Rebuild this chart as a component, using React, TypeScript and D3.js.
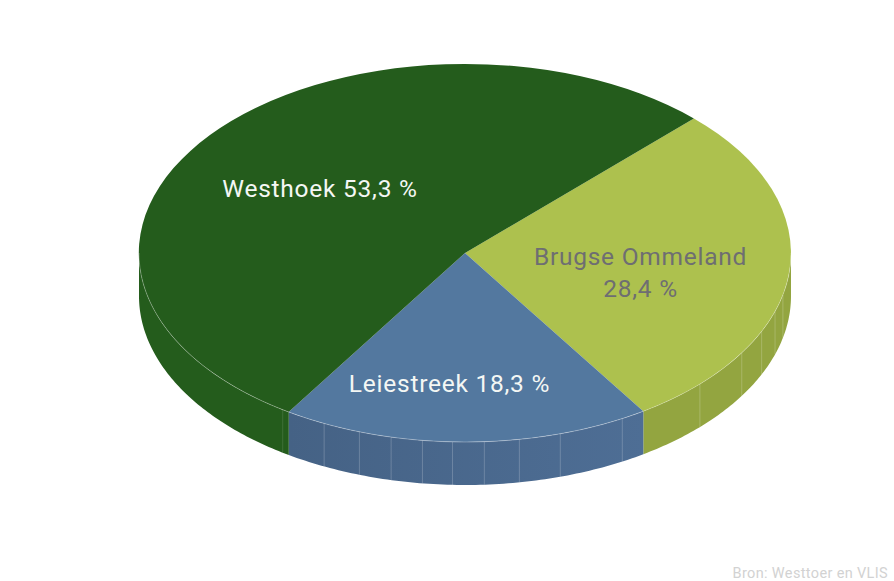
import React from "react";
import * as d3 from "d3";

const regions = ["Brugse Ommeland", "Leiestreek", "Westhoek"];
const shares = [28.4, 18.3, 53.3];
const shareLabels = ["28,4 %", "18,3 %", "53,3 %"];
const topColors = ["#adc14e", "#53789f", "#245c1c"];
const sideColors = ["#93a540", "url(#blueSide)", "#245c1c"];
const textColors = ["#6e6e72", "#f4f7f4", "#f4f7f4"];
const rimOpacity = [0.22, 0.3, 0.3];
const source = "Bron: Westtoer en VLIS";
// facet seams on the rim, degrees clockwise from the top of the pie
const oliveSeams = [102.8, 108, 114.5, 121.9, 133.9];
const blueSeams = [151.15, 163, 170.4, 176.6, 182.2, 187.5, 193.1, 198.9, 205.6];
const greenSeams = [214];

const W = 894, H = 581;
const cx = 465, cy = 253, rx = 326, ry = 189, depth = 43;
const FONT = "Roboto, sans-serif";

const px = (a: number) => cx + rx * Math.sin(a);
const py = (a: number, d = 0) => cy - ry * Math.cos(a) + d;
const rad = d3.scaleLinear().domain([0, 180]).range([0, Math.PI]);

const arcs = d3.pie<number>().sort(null).startAngle(rad(44.6)).endAngle(rad(404.6))(shares);
const unit = d3.arc<d3.PieArcDatum<number>>().innerRadius(0).outerRadius(1);

function rimSide(a0: number, a1: number): string {
  // visible front of the wall only: clockwise angles between 90 and 270 deg
  const s = Math.max(a0, rad(90)), e = Math.min(a1, rad(270));
  const t = d3.range(0, 81).map((i) => s + ((e - s) * i) / 80);
  const line = d3.line<[number, number]>();
  const top: [number, number][] = t.map((a) => [px(a), py(a)]);
  const bot: [number, number][] = t.slice().reverse().map((a) => [px(a), py(a, depth)]);
  return line([...top, ...bot]) + "Z";
}

function rimEdge(a0: number, a1: number): string {
  const s = Math.max(a0, rad(90)), e = Math.min(a1, rad(270));
  const t = d3.range(0, 81).map((i) => s + ((e - s) * i) / 80);
  return d3.line<number>().x((a) => px(a)).y((a) => py(a))(t) || "";
}

export default function App() {
  return (
    <svg
      width={W}
      height={H}
      viewBox={`0 0 ${W} ${H}`}
      style={{ position: "absolute", left: 0, top: 0, fontFamily: FONT }}
    >
      <defs>
        <linearGradient id="blueSide" x1="0" x2="1" y1="0" y2="0">
          <stop offset="0" stopColor="#456285" />
          <stop offset="1" stopColor="#4e6e95" />
        </linearGradient>
      </defs>
      <rect width={W} height={H} fill="#fff" />
      {arcs.map((d, i) => (
        <path key={"s" + i} d={rimSide(d.startAngle, d.endAngle)} fill={sideColors[i]} />
      ))}
      {[...oliveSeams, ...blueSeams, ...greenSeams].map((deg) => {
        const a = rad(deg);
        return (
          <line
            key={deg}
            x1={px(a)}
            x2={px(a)}
            y1={py(a)}
            y2={py(a, depth)}
            stroke="#fff"
            strokeOpacity={deg === 214 ? 0.12 : 0.2}
            strokeWidth={1}
          />
        );
      })}
      {arcs.map((d, i) => (
        <path
          key={"t" + i}
          d={unit(d) || ""}
          transform={`translate(${cx},${cy}) scale(${rx},${ry})`}
          fill={topColors[i]}
        />
      ))}
      {arcs.map((d, i) => (
        <path
          key={"sl" + i}
          d={rimEdge(d.startAngle, d.endAngle)}
          fill="none"
          stroke="#fff"
          strokeOpacity={rimOpacity[i]}
          strokeWidth={1}
        />
      ))}
      <g fontSize={24.5} textAnchor="middle" letterSpacing={0.75}>
        <text x={320} y={197} fill={textColors[2]}>
          {regions[2]} {shareLabels[2]}
        </text>
        <text x={449.5} y={392} fill={textColors[1]}>
          {regions[1]} {shareLabels[1]}
        </text>
        <text x={640.5} y={265} fill={textColors[0]}>
          {regions[0]}
        </text>
        <text x={640.5} y={297} fill={textColors[0]}>
          {shareLabels[0]}
        </text>
      </g>
      <text x={888} y={578} textAnchor="end" fontSize={14.5} fill="#d2d2d2" letterSpacing={0.35}>
        {source}
      </text>
    </svg>
  );
}
